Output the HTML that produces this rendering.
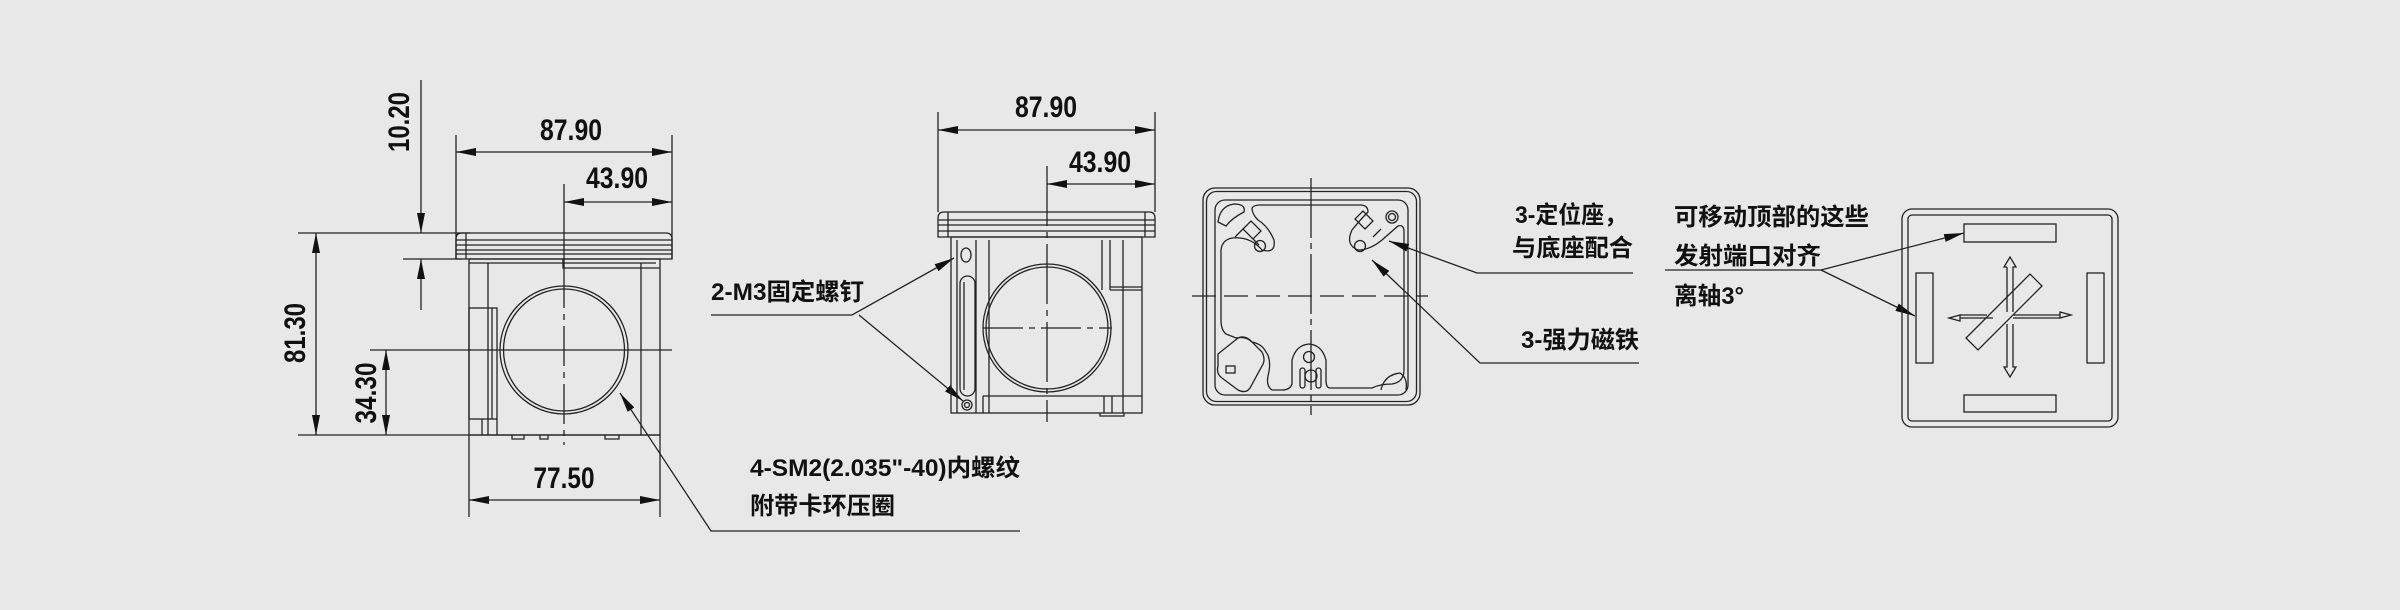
<!DOCTYPE html>
<html><head><meta charset="utf-8"><style>
html,body{margin:0;padding:0;background:#e8e8e8;}
svg{display:block;}
text{font-family:"Liberation Sans","Noto Sans CJK SC",sans-serif;fill:#111;font-weight:bold;}
</style></head><body>
<svg width="2400" height="610" viewBox="0 0 2400 610" xmlns="http://www.w3.org/2000/svg">
<defs>
<marker id="a" viewBox="0 0 20 8" refX="20" refY="4" markerWidth="20" markerHeight="8" markerUnits="userSpaceOnUse" orient="auto-start-reverse"><path d="M0,0L20,4L0,8z" fill="#111"/></marker>
</defs>
<rect width="2400" height="610" fill="#e8e8e8"/>
<g stroke="#222" stroke-width="1.3" fill="none">
<!-- ===== VIEW 1 ===== -->
<line x1="456" y1="135" x2="456" y2="259"/><line x1="672" y1="135" x2="672" y2="259"/>
<line x1="564" y1="184" x2="564" y2="268"/>
<line x1="298" y1="233" x2="470" y2="233"/><line x1="403" y1="259" x2="462" y2="259"/>
<line x1="298" y1="435" x2="660" y2="435"/>
<line x1="469" y1="435" x2="469" y2="517"/><line x1="660" y1="435" x2="660" y2="517"/>
<line x1="456" y1="152" x2="672" y2="152" marker-start="url(#a)" marker-end="url(#a)"/>
<line x1="564" y1="202" x2="672" y2="202" marker-start="url(#a)" marker-end="url(#a)"/>
<line x1="421" y1="80" x2="421" y2="233" marker-end="url(#a)"/>
<line x1="421" y1="310" x2="421" y2="259" marker-end="url(#a)"/>
<line x1="316" y1="233" x2="316" y2="435" marker-start="url(#a)" marker-end="url(#a)"/>
<line x1="386" y1="350" x2="386" y2="435" marker-start="url(#a)" marker-end="url(#a)"/>
<line x1="370" y1="350" x2="672" y2="350"/>
<line x1="469" y1="500" x2="660" y2="500" marker-start="url(#a)" marker-end="url(#a)"/>
<path d="M462,233 H666 Q672,233 672,239 V259 H456 V239 Q456,233 462,233Z"/>
<line x1="456" y1="240" x2="672" y2="240"/><line x1="456" y1="245" x2="672" y2="245"/>
<line x1="456" y1="250" x2="672" y2="250"/><line x1="456" y1="254" x2="672" y2="254"/>
<line x1="466" y1="233" x2="466" y2="259"/>
<rect x="469" y="259" width="191" height="176"/>
<line x1="488" y1="263" x2="488" y2="435"/><line x1="641" y1="263" x2="641" y2="435"/>
<polyline points="563,259 563,268 660,268"/>
<line x1="469" y1="263" x2="656" y2="263"/>
<rect x="469" y="308" width="28" height="111"/>
<line x1="492" y1="308" x2="492" y2="419"/><line x1="497" y1="419" x2="497" y2="435"/>
<line x1="482" y1="419" x2="482" y2="435"/>
<ellipse cx="564" cy="350" rx="64" ry="64"/>
<ellipse cx="564" cy="350" rx="60.5" ry="61"/>
<line x1="564" y1="268" x2="564" y2="445" stroke-dasharray="40,6,6,6"/>
<path d="M512,435 v4 h12 v-4 M540,435 v4 h8 v-4 M605,435 v4 h14 v-4"/>
<polyline points="1020,531 711,531 620,393" marker-end="url(#a)"/>
<polyline points="711,315 852,315 954,258" marker-end="url(#a)"/>
<line x1="859" y1="315" x2="963" y2="401" marker-end="url(#a)"/>

<!-- ===== VIEW 2 ===== -->
<line x1="938" y1="112" x2="938" y2="212"/><line x1="1155" y1="112" x2="1155" y2="212"/>
<line x1="938" y1="130" x2="1155" y2="130" marker-start="url(#a)" marker-end="url(#a)"/>
<line x1="1047" y1="184" x2="1155" y2="184" marker-start="url(#a)" marker-end="url(#a)"/>
<line x1="1047" y1="166" x2="1047" y2="422" stroke-dasharray="60,6,6,6"/>
<path d="M944,212 H1149 Q1155,212 1155,218 V237 H938 V218 Q938,212 944,212Z"/>
<line x1="938" y1="220" x2="1155" y2="220"/><line x1="938" y1="225" x2="1155" y2="225"/><line x1="938" y1="231" x2="1155" y2="231"/>
<line x1="948" y1="212" x2="948" y2="237"/><line x1="1145" y1="212" x2="1145" y2="237"/>
<rect x="951" y="237" width="191" height="176"/>
<line x1="957" y1="240" x2="957" y2="413"/><line x1="976" y1="240" x2="976" y2="413"/><line x1="989" y1="240" x2="989" y2="413"/>
<ellipse cx="966" cy="255" rx="5" ry="7"/>
<rect x="960" y="276" width="15" height="120" rx="7.5"/>
<line x1="964" y1="282" x2="964" y2="390"/>
<circle cx="967" cy="405" r="5"/><circle cx="967" cy="405" r="2.5"/>
<line x1="1102" y1="240" x2="1102" y2="290"/><line x1="1110" y1="240" x2="1110" y2="290"/><line x1="1123" y1="240" x2="1123" y2="413"/>
<line x1="1110" y1="290" x2="1142" y2="290"/><line x1="1110" y1="287" x2="1142" y2="287"/>
<circle cx="1047" cy="328" r="64"/><circle cx="1047" cy="328" r="61"/>
<line x1="983" y1="328" x2="1112" y2="328" stroke-dasharray="40,6,6,6"/>
<line x1="983" y1="396" x2="1142" y2="396"/><line x1="983" y1="396" x2="983" y2="413"/>
<line x1="1104" y1="396" x2="1104" y2="413"/><line x1="1112" y1="396" x2="1112" y2="413"/>
<path d="M1100,413 v3 h24 v-3"/>

<!-- ===== VIEW 3 ===== -->
<rect x="1203" y="188" width="217" height="217" rx="12"/>
<rect x="1206.5" y="191.5" width="210" height="210" rx="10"/>
<rect x="1215" y="200" width="193" height="195" rx="10"/>
<path d="M1260,205 H1360 Q1368,205 1368,212 Q1360,220 1352,230 Q1345,245 1358,250 Q1370,250 1382,240 L1398,226 Q1404,224 1404,232 V370 Q1404,382 1392,384 Q1380,384 1372,388 H1330 Q1326,388 1326,380 V360 Q1322,345 1309,344 Q1296,345 1292,360 V384 Q1290,390 1282,390 H1272 Q1266,386 1268,376 Q1272,360 1266,352 Q1262,344 1252,342 Q1246,336 1236,338 L1226,334 Q1221,330 1221,320 V250 Q1222,240 1232,238 Q1250,236 1262,250 Q1276,254 1274,240 Q1268,226 1258,220 Q1252,214 1252,208 Q1254,205 1260,205Z"/>
<path d="M1218,222 Q1220,206 1234,204 Q1246,204 1244,212 Q1232,218 1226,226Z"/>
<path d="M1243,229 l8,-8 l10,10 l-8,8z M1235,237 l8,-8 M1253,239 l6,6"/>
<path d="M1365,229 l8,-8 l-10,-10 l-8,8z M1373,237 l8,-8"/>
<circle cx="1260" cy="246" r="5.5"/><circle cx="1360" cy="246" r="5.5"/><circle cx="1309" cy="357" r="5.5"/>
<circle cx="1392" cy="217" r="6"/><circle cx="1392" cy="217" r="3.5"/>
<circle cx="1311" cy="376" r="6"/>
<rect x="1300" y="368" width="5" height="20" rx="2.5"/><rect x="1316" y="368" width="5" height="20" rx="2.5"/>
<path d="M1218,354 L1238,338 Q1244,335 1250,340 L1262,352 Q1266,360 1262,366 L1250,388 Q1246,394 1238,390 L1222,378 Q1216,374 1218,366Z"/>
<rect x="1226" y="366" width="9" height="7"/>
<path d="M1381,390 Q1384,375 1400,373 Q1408,378 1406,390"/>
<line x1="1311" y1="178" x2="1311" y2="415" stroke-dasharray="60,5,6,5"/>
<line x1="1192" y1="296" x2="1428" y2="296" stroke-dasharray="24,8"/>
<polyline points="1633,273 1477,273 1389,241" marker-end="url(#a)"/>
<polyline points="1639,363 1480,363 1372,260" marker-end="url(#a)"/>

<!-- ===== VIEW 4 ===== -->
<polyline points="1665,270 1821,270 1964,233" marker-end="url(#a)"/>
<line x1="1821" y1="270" x2="1915" y2="316" marker-end="url(#a)"/>
<rect x="1902" y="209" width="216" height="218" rx="10"/>
<rect x="1908" y="215" width="204" height="206" rx="4"/>
<rect x="1964" y="224" width="92" height="18"/>
<rect x="1964" y="395" width="92" height="17"/>
<rect x="1916" y="273" width="17" height="90"/>
<rect x="2087" y="273" width="17" height="90"/>
<path d="M2007,267 h-3 l6,-10 l6,10 h-3 v45 M2007,267 v45 M2007,324 v43 h-3 l6,10 l6,-10 h-3 v-43 M1993,318 h-33 v3 l-11,-3 l11,-3 v3 M1987,315 h-27 M2013,315 h47 v-3 l11,3 l-11,3 v-3 M2013,318 h47"/>
<path d="M1966,338 L1978,350 L2042,286 L2030,274Z"/>
</g>
<g font-size="30">
<text x="571" y="140" text-anchor="middle" textLength="62" lengthAdjust="spacingAndGlyphs">87.90</text>
<text x="617" y="188" text-anchor="middle" textLength="62" lengthAdjust="spacingAndGlyphs">43.90</text>
<text x="564" y="488" text-anchor="middle" textLength="61" lengthAdjust="spacingAndGlyphs">77.50</text>
<text x="1046" y="117" text-anchor="middle" textLength="62" lengthAdjust="spacingAndGlyphs">87.90</text>
<text x="1100" y="172" text-anchor="middle" textLength="62" lengthAdjust="spacingAndGlyphs">43.90</text>
<text transform="translate(409,122) rotate(-90)" text-anchor="middle" textLength="60" lengthAdjust="spacingAndGlyphs">10.20</text>
<text transform="translate(305,333) rotate(-90)" text-anchor="middle" textLength="60" lengthAdjust="spacingAndGlyphs">81.30</text>
<text transform="translate(376,393) rotate(-90)" text-anchor="middle" textLength="61" lengthAdjust="spacingAndGlyphs">34.30</text>
</g>
<g font-size="24">
<text x="711" y="300" textLength="153" lengthAdjust="spacingAndGlyphs">2-M3固定螺钉</text>
<text x="750" y="476" textLength="270" lengthAdjust="spacingAndGlyphs">4-SM2(2.035"-40)内螺纹</text>
<text x="750" y="514" textLength="145" lengthAdjust="spacingAndGlyphs">附带卡环压圈</text>
<text x="1515" y="223" textLength="112" lengthAdjust="spacingAndGlyphs">3-定位座，</text>
<text x="1512" y="256" textLength="121" lengthAdjust="spacingAndGlyphs">与底座配合</text>
<text x="1521" y="348" textLength="118" lengthAdjust="spacingAndGlyphs">3-强力磁铁</text>
<text x="1674" y="225" textLength="195" lengthAdjust="spacingAndGlyphs">可移动顶部的这些</text>
<text x="1674" y="264" textLength="147" lengthAdjust="spacingAndGlyphs">发射端口对齐</text>
<text x="1674" y="304" textLength="70" lengthAdjust="spacingAndGlyphs">离轴3°</text>
</g>
</svg>
</body></html>
